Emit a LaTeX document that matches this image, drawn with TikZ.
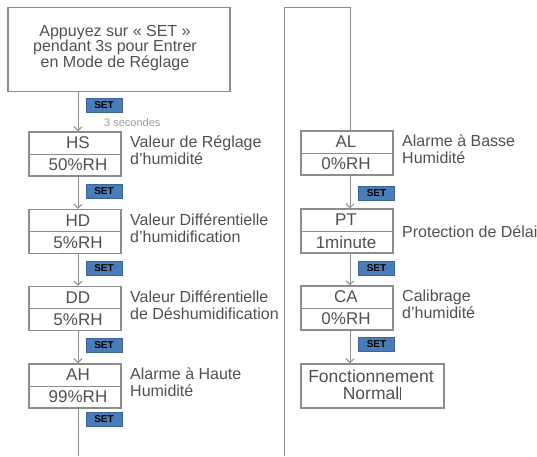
\documentclass[tikz,border=0pt]{standalone}
\usepackage{fontspec}
\setmainfont{Liberation Sans}
\usetikzlibrary{arrows.meta}
\definecolor{txt}{HTML}{505050}
\definecolor{ln}{HTML}{8C8C8C}
\definecolor{soft}{HTML}{9A9A9A}
\definecolor{setfill}{HTML}{4A7DB8}
\definecolor{setdraw}{HTML}{3A6598}
\begin{document}
\begin{tikzpicture}[x=1pt,y=-1pt,
  box/.style={draw=ln, line width=1.2pt, minimum width=92pt, minimum height=44pt, inner sep=0pt},
  val/.style={text=txt, font=\fontsize{17}{17}\selectfont, inner sep=0pt},
  desc/.style={text=txt, font=\fontsize{16}{17}\selectfont, align=left, anchor=west, inner sep=0pt},
  setb/.style={fill=setfill, draw=setdraw, line width=0.6pt, minimum width=36pt, minimum height=14pt, inner sep=0pt, font=\bfseries\fontsize{10}{10}\selectfont},
  arr/.style={draw=ln, line width=1pt, -{Straight Barb[length=4pt,width=8pt]}},
  lin/.style={draw=ln, line width=1pt}]
\useasboundingbox (0,0) rectangle (537,456);

% top box
\node[box, minimum width=222pt, minimum height=84pt] (start) at (119,49.5) {};
\node[val, font=\fontsize{16}{16}\selectfont, align=center] (starttxt) at (115,48)
  {Appuyez sur « SET »\\[-0.5pt]pendant 3s pour Entrer\\[-0.5pt]en Mode de Réglage};

% left column boxes
\node[box] (hs) at (75,154) {};
\node[box] (hd) at (75,231.5) {};
\node[box] (dd) at (75,308.5) {};
\node[box] (ah) at (75,386) {};
\foreach \n/\a/\b in {hs/HS/50\%RH, hd/HD/5\%RH, dd/DD/5\%RH, ah/AH/99\%RH}{
  \draw[lin] (\n.west) -- (\n.east);
  \node[val] (\n a) at ([xshift=3pt,yshift=11pt]\n.center) {\a};
  \node[val] (\n b) at ([xshift=3pt,yshift=-11pt]\n.center) {\b};
}
\node[desc] (hsd) at (130,150.5) {Valeur de Réglage\\d’humidité};
\node[desc] (hdd) at (130,228) {Valeur Différentielle\\d’humidification};
\node[desc] (ddd) at (130,305) {Valeur Différentielle\\de Déshumidification};
\node[desc] (ahd) at (130,382.5) {Alarme à Haute\\Humidité};

% left arrows
\draw[arr] ([xshift=-41pt]start.south) -- ([xshift=3pt]hs.north);
\draw[arr] ([xshift=3pt]hs.south) -- ([xshift=3pt]hd.north);
\draw[arr] ([xshift=3pt]hd.south) -- ([xshift=3pt]dd.north);
\draw[arr] ([xshift=3pt]dd.south) -- ([xshift=3pt]ah.north);
\coordinate (lbot) at (78,456);
\draw[lin] ([xshift=3pt]ah.south) -- (lbot);

% left SET boxes
\node[setb] (s0) at (104,105) {SET};
\node[setb] (s1) at (104,191.5) {SET};
\node[setb] (s2) at (104,268.5) {SET};
\node[setb] (s3) at (104,345.5) {SET};
\node[setb] (s4) at (104,419.5) {SET};
\node[anchor=west, inner sep=0pt, text=soft, font=\fontsize{11}{11}\selectfont] (sec) at (104,123) {3 secondes};

% right column boxes
\node[box] (al) at (347,153) {};
\node[box] (pt) at (347,231) {};
\node[box] (ca) at (347,308) {};
\foreach \n/\a/\b in {al/AL/0\%RH, pt/PT/1minute, ca/CA/0\%RH}{
  \draw[lin] (\n.west) -- (\n.east);
  \node[val] (\n a) at ([xshift=-1pt,yshift=11pt]\n.center) {\a};
  \node[val] (\n b) at ([xshift=-1pt,yshift=-11pt]\n.center) {\b};
}
\node[box, minimum width=143pt] (norm) at (372.5,386) {};
\node[val, font=\fontsize{17.5}{17.5}\selectfont, align=center] (normtxt) at (371,385) {Fonctionnement\\[-0.5pt]Normal\kern0.3pt\rule[-1pt]{1.3pt}{13pt}\kern-1.6pt};

\node[desc] (ald) at (402,149.5) {Alarme à Basse\\Humidité};
\node[desc] (ptd) at (402,232) {Protection de Délai};
\node[desc] (cad) at (402,304.5) {Calibrage\\d’humidité};

% right arrows
\draw[arr] ([xshift=3pt]al.south) -- ([xshift=3pt]pt.north);
\draw[arr] ([xshift=3pt]pt.south) -- ([xshift=3pt]ca.north);
\draw[arr] ([xshift=3pt]ca.south) -- ([xshift=3pt]norm.north -| ca.south);

% right SET boxes
\node[setb] (r1) at (376.5,193) {SET};
\node[setb] (r2) at (376.5,268) {SET};
\node[setb] (r3) at (376.5,344.5) {SET};

% loop line
\coordinate (rbot) at (284,456);
\coordinate (rtop) at (284,7);
\coordinate (rturn) at (350,7);
\draw[lin] (rbot) -- (rtop) -- (rturn) -- ([xshift=3pt]al.north);
\end{tikzpicture}
\end{document}
